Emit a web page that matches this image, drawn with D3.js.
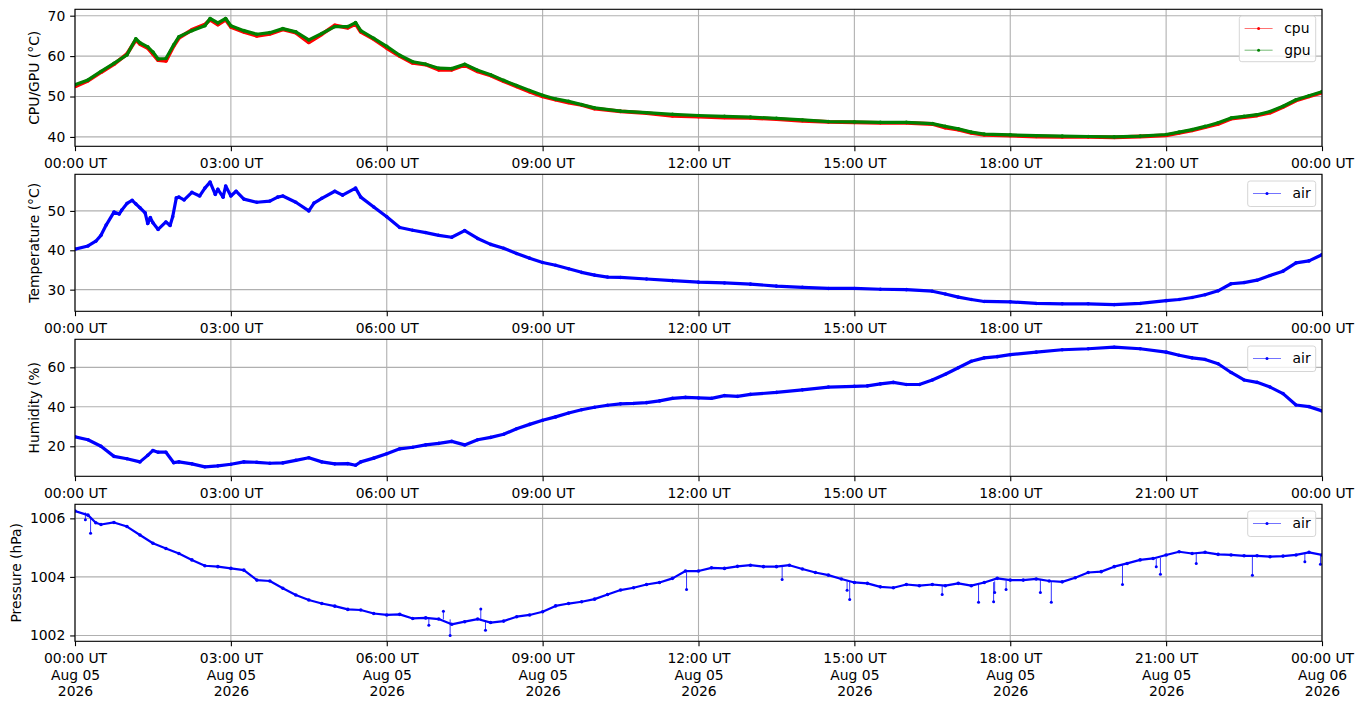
<!DOCTYPE html>
<html>
<head>
<meta charset='utf-8'>
<script src='https://d3js.org/d3.v7.min.js'></script>
<style>
  body { margin: 0; background: #fff; }
  svg { font-family: "DejaVu Sans", sans-serif; }
  .grid line { stroke: #b0b0b0; stroke-width: 1.1; }
</style>
</head>
<body>
<div id='chart'></div>
<script>
// readings, hours since 2026-08-05 00:00 UT
const cpuHours = [0, 0.25, 0.5, 0.75, 1, 1.17, 1.25, 1.4, 1.5, 1.6, 1.75, 1.9, 2, 2.25, 2.5, 2.6, 2.75, 2.9, 3, 3.25, 3.5, 3.75, 4, 4.25, 4.5, 4.75, 5, 5.25, 5.4, 5.5, 5.75, 6, 6.25, 6.5, 6.75, 7, 7.25, 7.5, 7.75, 8, 8.25, 8.5, 8.75, 9, 9.25, 9.5, 9.75, 10, 10.5, 11, 11.5, 12, 12.5, 13, 13.5, 14, 14.5, 15, 15.5, 16, 16.5, 16.75, 17, 17.25, 17.5, 18, 18.5, 19, 19.5, 20, 20.5, 21, 21.25, 21.5, 21.75, 22, 22.25, 22.5, 22.75, 23, 23.25, 23.5, 23.75, 24];
const cpuValues = [52.5, 53.9, 56.0, 58.0, 60.5, 64.0, 63.0, 62.0, 60.5, 59.0, 58.8, 62.5, 64.5, 66.5, 67.8, 69.0, 67.8, 69.0, 67.2, 66.0, 65.0, 65.5, 66.6, 65.8, 63.4, 65.4, 67.6, 67.0, 68.0, 66.0, 64.2, 62.0, 60.0, 58.3, 57.9, 56.6, 56.6, 57.8, 56.2, 55.2, 53.8, 52.5, 51.2, 50.0, 49.2, 48.5, 47.9, 47.0, 46.3, 45.9, 45.2, 45.0, 44.8, 44.7, 44.4, 44.0, 43.7, 43.6, 43.5, 43.5, 43.2, 42.3, 41.8, 41.0, 40.5, 40.3, 40.1, 40.0, 40.0, 39.9, 40.1, 40.4, 41.0, 41.6, 42.4, 43.2, 44.5, 44.9, 45.3, 46.0, 47.4, 49.0, 50.0, 51.0];
const gpuHours = cpuHours;
const gpuValues = [52.9, 54.1, 56.2, 58.2, 60.3, 64.3, 63.3, 62.3, 61.0, 59.3, 59.4, 62.8, 64.8, 66.3, 67.5, 69.3, 68.2, 69.3, 67.5, 66.3, 65.4, 65.8, 66.8, 66.0, 64.0, 65.6, 67.3, 67.3, 68.3, 66.3, 64.4, 62.4, 60.2, 58.6, 58.0, 57.0, 56.9, 58.0, 56.5, 55.4, 54.0, 52.7, 51.5, 50.3, 49.4, 48.8, 48.0, 47.2, 46.4, 46.0, 45.6, 45.3, 45.1, 44.9, 44.6, 44.2, 43.8, 43.7, 43.6, 43.6, 43.3, 42.6, 42.0, 41.2, 40.7, 40.5, 40.3, 40.2, 40.1, 40.0, 40.2, 40.6, 41.2, 41.8, 42.6, 43.5, 44.7, 45.1, 45.5, 46.3, 47.6, 49.2, 50.2, 51.2];

const tempHours = [0, 0.25, 0.4, 0.5, 0.6, 0.75, 0.85, 0.9, 1, 1.1, 1.17, 1.25, 1.35, 1.4, 1.45, 1.5, 1.6, 1.75, 1.83, 1.88, 1.95, 2, 2.1, 2.25, 2.4, 2.5, 2.6, 2.7, 2.75, 2.85, 2.9, 3, 3.1, 3.25, 3.5, 3.75, 3.9, 4, 4.25, 4.5, 4.6, 4.75, 5, 5.15, 5.4, 5.5, 5.75, 6, 6.25, 6.5, 6.75, 7, 7.25, 7.5, 7.75, 8, 8.25, 8.5, 8.75, 9, 9.25, 9.5, 9.75, 10, 10.25, 10.5, 11, 11.5, 12, 12.5, 13, 13.5, 14, 14.5, 15, 15.5, 16, 16.5, 16.75, 17, 17.25, 17.5, 18, 18.5, 19, 19.5, 20, 20.5, 21, 21.25, 21.5, 21.75, 22, 22.25, 22.5, 22.75, 23, 23.25, 23.5, 23.75, 24];
const tempValues = [40.3, 41.1, 42.3, 43.8, 46.4, 49.7, 49.2, 50.2, 51.9, 52.7, 51.8, 50.8, 49.5, 46.8, 48.3, 47.0, 45.3, 47.2, 46.3, 48.5, 53.3, 53.5, 52.8, 54.7, 53.8, 55.8, 57.3, 54.2, 55.5, 53.5, 56.3, 53.8, 55.0, 53.0, 52.2, 52.5, 53.5, 53.8, 52.2, 50.0, 52.0, 53.2, 55.0, 54.0, 55.8, 53.5, 51.0, 48.5, 45.8, 45.1, 44.5, 43.8, 43.3, 45.0, 43.0, 41.5, 40.5, 39.2, 38.0, 36.9, 36.2, 35.3, 34.4, 33.7, 33.2, 33.1, 32.7, 32.3, 31.9, 31.7, 31.4, 30.9, 30.6, 30.3, 30.3, 30.1, 30.0, 29.6, 28.9, 28.1, 27.5, 27.0, 26.9, 26.5, 26.4, 26.4, 26.2, 26.5, 27.2, 27.5, 28.0, 28.7, 29.7, 31.5, 31.8, 32.4, 33.6, 34.7, 36.8, 37.3, 38.9];

const humHours = [0, 0.25, 0.5, 0.75, 1, 1.25, 1.4, 1.5, 1.6, 1.75, 1.9, 2, 2.25, 2.5, 2.75, 3, 3.25, 3.5, 3.75, 4, 4.25, 4.5, 4.75, 5, 5.25, 5.4, 5.5, 5.75, 6, 6.25, 6.5, 6.75, 7, 7.25, 7.5, 7.75, 8, 8.25, 8.5, 8.75, 9, 9.25, 9.5, 9.75, 10, 10.25, 10.5, 10.75, 11, 11.25, 11.5, 11.75, 12, 12.25, 12.5, 12.75, 13, 13.5, 14, 14.5, 15, 15.25, 15.5, 15.75, 16, 16.25, 16.5, 16.75, 17, 17.25, 17.5, 17.75, 18, 18.5, 19, 19.5, 20, 20.5, 21, 21.25, 21.5, 21.75, 22, 22.25, 22.5, 22.75, 23, 23.25, 23.5, 23.75, 24];
const humValues = [24.8, 23.3, 20.0, 14.9, 13.7, 12.1, 15.4, 17.9, 17.0, 17.0, 11.7, 12.1, 11.1, 9.6, 10.1, 10.9, 12.1, 11.9, 11.4, 11.6, 12.9, 14.2, 12.1, 11.1, 11.2, 10.4, 12.1, 14.0, 16.2, 18.7, 19.5, 20.7, 21.5, 22.5, 20.7, 23.3, 24.5, 26.1, 28.9, 31.1, 33.2, 34.9, 36.9, 38.5, 39.8, 40.8, 41.5, 41.7, 42.1, 43.0, 44.3, 44.8, 44.5, 44.3, 45.7, 45.3, 46.3, 47.3, 48.6, 50.0, 50.4, 50.6, 51.6, 52.4, 51.3, 51.3, 53.6, 56.5, 59.8, 63.1, 64.8, 65.4, 66.4, 67.7, 68.9, 69.4, 70.2, 69.4, 67.7, 66.1, 64.8, 64.0, 61.8, 57.4, 53.6, 52.4, 50.0, 46.7, 40.9, 40.1, 37.9];

const presHours = [0, 0.25, 0.4, 0.5, 0.75, 1, 1.25, 1.5, 1.75, 2, 2.25, 2.5, 2.75, 3, 3.25, 3.5, 3.75, 4, 4.25, 4.5, 4.75, 5, 5.25, 5.5, 5.75, 6, 6.25, 6.5, 6.75, 7, 7.25, 7.5, 7.75, 8, 8.25, 8.5, 8.75, 9, 9.25, 9.5, 9.75, 10, 10.25, 10.5, 10.75, 11, 11.25, 11.5, 11.75, 12, 12.25, 12.5, 12.75, 13, 13.25, 13.5, 13.75, 14, 14.25, 14.5, 14.75, 15, 15.25, 15.5, 15.75, 16, 16.25, 16.5, 16.75, 17, 17.25, 17.5, 17.75, 18, 18.25, 18.5, 18.75, 19, 19.25, 19.5, 19.75, 20, 20.25, 20.5, 20.75, 21, 21.25, 21.5, 21.75, 22, 22.25, 22.5, 22.75, 23, 23.25, 23.5, 23.75, 24];
const presValues = [1006.25, 1006.11, 1005.85, 1005.79, 1005.86, 1005.72, 1005.43, 1005.15, 1004.97, 1004.80, 1004.58, 1004.38, 1004.35, 1004.29, 1004.23, 1003.89, 1003.86, 1003.61, 1003.38, 1003.21, 1003.09, 1003.00, 1002.89, 1002.87, 1002.75, 1002.70, 1002.72, 1002.58, 1002.60, 1002.56, 1002.38, 1002.47, 1002.56, 1002.44, 1002.49, 1002.64, 1002.70, 1002.81, 1003.01, 1003.09, 1003.15, 1003.24, 1003.40, 1003.55, 1003.63, 1003.74, 1003.81, 1003.95, 1004.20, 1004.20, 1004.31, 1004.29, 1004.36, 1004.40, 1004.35, 1004.35, 1004.40, 1004.27, 1004.15, 1004.06, 1003.93, 1003.81, 1003.78, 1003.66, 1003.63, 1003.74, 1003.70, 1003.74, 1003.70, 1003.78, 1003.70, 1003.81, 1003.95, 1003.89, 1003.89, 1003.93, 1003.86, 1003.83, 1003.97, 1004.15, 1004.18, 1004.35, 1004.46, 1004.58, 1004.63, 1004.75, 1004.86, 1004.80, 1004.84, 1004.77, 1004.75, 1004.72, 1004.72, 1004.69, 1004.71, 1004.75, 1004.84, 1004.75];
// single-sample spikes in pressure: [hour, level before, spike value]
const presSpikes = [[0.2, 1006.2, 1005.95], [0.3, 1006.0, 1005.49], [6.81, 1002.6, 1002.35], [7.09, 1002.55, 1002.83], [7.22, 1002.55, 1002.0], [7.81, 1002.5, 1002.9], [7.9, 1002.5, 1002.18], [11.77, 1004.15, 1003.57], [13.61, 1004.35, 1003.91], [14.86, 1003.85, 1003.54], [14.91, 1003.85, 1003.23], [16.69, 1003.72, 1003.4], [17.39, 1003.75, 1003.13], [17.68, 1003.82, 1003.15], [17.7, 1003.85, 1003.47], [17.92, 1003.88, 1003.57], [18.58, 1003.9, 1003.47], [18.79, 1003.86, 1003.13], [20.16, 1004.4, 1003.74], [20.81, 1004.62, 1004.35], [20.89, 1004.65, 1004.09], [21.58, 1004.8, 1004.46], [22.66, 1004.72, 1004.06], [23.67, 1004.8, 1004.52], [23.97, 1004.75, 1004.43]];

const tempTicks = [40, 50, 60, 70];
const airTicks = [30, 40, 50];
const humTicks = [20, 40, 60];
const presTicks = [1002, 1004, 1006];

const dayStart = Date.UTC(2026, 7, 5);
const W = 1363, H = 707;
const axLeft = 75, axRight = 1322, axHeight = 137;
const fs = 13.9;

function toDate(h) { return new Date(dayStart + h * 3600e3); }
function pairs(hours, values) { return hours.map((h, i) => [toDate(h), values[i]]); }

const panels = [
    { top: 9.3, label: 'CPU/GPU (°C)', labelX: 38.7, domain: [37.68, 71.58], ticks: tempTicks,
      series: [{ name: 'cpu', color: '#ff0000', lw: 3.8, data: pairs(cpuHours, cpuValues) },
               { name: 'gpu', color: '#008000', lw: 3.2, data: pairs(gpuHours, gpuValues) }] },
    { top: 174.3, label: 'Temperature (°C)', labelX: 38.7, domain: [24.5, 59.3], ticks: airTicks,
      series: [{ name: 'air', color: '#0000ff', lw: 3.2, data: pairs(tempHours, tempValues) }] },
    { top: 339.3, label: 'Humidity (%)', labelX: 38.7, domain: [4.8, 74.2], ticks: humTicks,
      series: [{ name: 'air', color: '#0000ff', lw: 3.2, data: pairs(humHours, humValues) }] },
    { top: 504.3, label: 'Pressure (hPa)', labelX: 21, domain: [1001.8, 1006.48], ticks: presTicks, dates: true,
      series: [{ name: 'air', color: '#0000ff', lw: 2.2, data: pairs(presHours, presValues) }] }
];

const svg = d3.select('#chart').append('svg').attr('width', W).attr('height', H);

const x = d3.scaleUtc()
    .domain([toDate(0), toDate(24)])
    .range([axLeft, axRight]);
const xTicks = x.ticks(d3.utcHour.every(3));

svg.append('clipPath').attr('id', 'clip')
    .append('rect').attr('x', axLeft).attr('y', 0).attr('width', axRight - axLeft).attr('height', axHeight);

panels.forEach(function (p, pi) {
    const g = svg.append('g').attr('transform', 'translate(0,' + p.top + ')');
    const y = d3.scaleLinear().domain(p.domain).range([axHeight, 0]);

    const grid = g.append('g').attr('class', 'grid');
    grid.selectAll('.gx').data(xTicks).join('line')
        .attr('x1', d => x(d)).attr('x2', d => x(d)).attr('y1', 0).attr('y2', axHeight);
    grid.selectAll('.gy').data(p.ticks).join('line')
        .attr('class', 'gy')
        .attr('x1', axLeft).attr('x2', axRight).attr('y1', d => y(d)).attr('y2', d => y(d));

    const plot = g.append('g').attr('clip-path', 'url(#clip)');
    const line = d3.line().x(d => x(d[0])).y(d => y(d[1]));

    p.series.forEach(function (s) {
        plot.append('path').datum(s.data)
            .attr('d', line).attr('fill', 'none')
            .attr('stroke', s.color).attr('stroke-width', s.lw)
            .attr('stroke-linejoin', 'round');
        plot.selectAll(null).data(s.data).join('circle')
            .attr('cx', d => x(d[0])).attr('cy', d => y(d[1]))
            .attr('r', 1.8).attr('fill', s.color);
    });

    if (p.dates) {
        plot.selectAll(null).data(presSpikes).join('line')
            .attr('x1', d => x(toDate(d[0]))).attr('x2', d => x(toDate(d[0])))
            .attr('y1', d => y(d[1])).attr('y2', d => y(d[2]))
            .attr('stroke', '#0000ff').attr('stroke-width', 0.8);
        plot.selectAll(null).data(presSpikes).join('circle')
            .attr('cx', d => x(toDate(d[0]))).attr('cy', d => y(d[2]))
            .attr('r', 1.5).attr('fill', '#0000ff');
    }

    // axes
    const fmtTime = d3.utcFormat('%H:%M UT');
    const xa = g.append('g').attr('transform', 'translate(0,' + axHeight + ')')
        .call(d3.axisBottom(x).tickValues(xTicks).tickSize(4.86).tickPadding(4.86).tickFormat(fmtTime));
    xa.select('.domain').remove();
    xa.selectAll('.tick text').attr('dy', '0.86em');
    if (p.dates) {
        xa.selectAll('.tick text').each(function (d) {
            const t = d3.select(this).text(null);
            t.append('tspan').attr('x', 0).text(fmtTime(d));
            t.append('tspan').attr('x', 0).attr('dy', '1.2em').text(d3.utcFormat('%b %d')(d));
            t.append('tspan').attr('x', 0).attr('dy', '1.2em').text(d3.utcFormat('%Y')(d));
        });
    }

    const ya = g.append('g').attr('transform', 'translate(' + axLeft + ',0)')
        .call(d3.axisLeft(y).tickValues(p.ticks).tickSize(4.86).tickPadding(4.86).tickFormat(d3.format('d')));
    ya.select('.domain').remove();

    [xa, ya].forEach(a => {
        a.attr('font-family', null).attr('font-size', fs);
        a.selectAll('.tick line').attr('stroke', '#000').attr('stroke-width', 1.1);
        a.selectAll('.tick text').attr('fill', '#000');
    });

    g.append('rect')
        .attr('x', axLeft).attr('y', 0).attr('width', axRight - axLeft).attr('height', axHeight)
        .attr('fill', 'none').attr('stroke', '#000').attr('stroke-width', 1.1);

    g.append('text')
        .attr('transform', 'translate(' + p.labelX + ',' + axHeight / 2 + ') rotate(-90)')
        .attr('text-anchor', 'middle').attr('font-size', fs)
        .text(p.label);

    // legend
    const rowH = 21.7;
    const boxW = p.series.length > 1 ? 76.4 : 68;
    const boxH = p.series.length > 1 ? 45.7 : 25.5;
    const lg = g.append('g').attr('transform', 'translate(' + (axRight - 6.3 - boxW) + ',6.7)');
    lg.append('rect').attr('width', boxW).attr('height', boxH).attr('rx', 2.5)
        .attr('fill', '#fff').attr('fill-opacity', 0.8)
        .attr('stroke', '#d6d6d6').attr('stroke-width', 1);
    p.series.forEach(function (s, i) {
        const ry = 12.5 + i * rowH;
        lg.append('line').attr('x1', 5.3).attr('x2', 33.3).attr('y1', ry).attr('y2', ry)
            .attr('stroke', s.color).attr('stroke-opacity', 0.55).attr('stroke-width', 1);
        lg.append('circle').attr('cx', 19.3).attr('cy', ry).attr('r', 1.5).attr('fill', s.color);
        lg.append('text').attr('x', 44.9).attr('y', ry).attr('dy', '0.35em')
            .attr('font-size', fs).text(s.name);
    });
});
</script>
</body>
</html>
